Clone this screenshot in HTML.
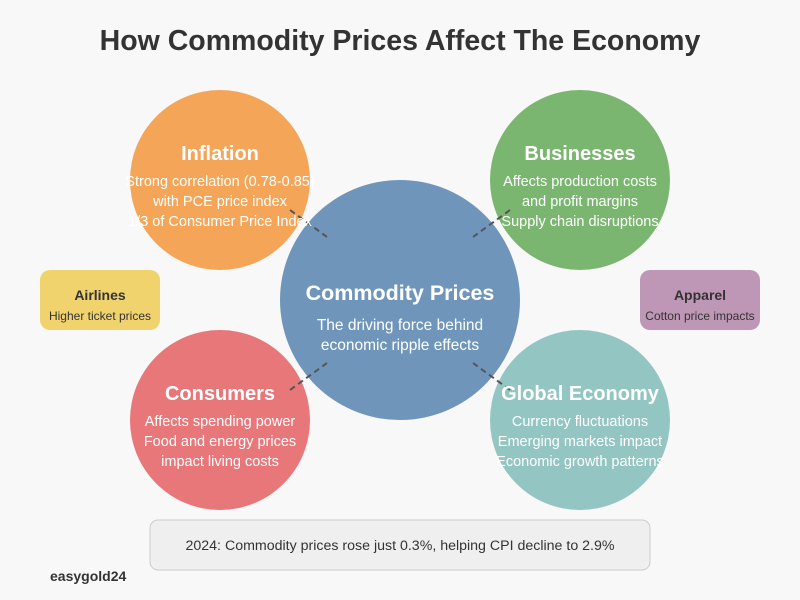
<!DOCTYPE html>
<html><head><style>body{margin:0;background:#f8f8f8}svg{display:block}</style></head><body>
<svg width="800" height="600" viewBox="0 0 800 600" xmlns="http://www.w3.org/2000/svg" font-family="Liberation Sans, sans-serif">
<rect width="800" height="600" fill="#f8f8f8"/>
<text x="400" y="50" text-anchor="middle" font-size="28.5" font-weight="bold" fill="#333">How Commodity Prices Affect The Economy</text>
<circle cx="400" cy="300" r="120" fill="#6f96ba"/>
<circle cx="220" cy="180" r="90" fill="#f4a558"/>
<circle cx="580" cy="180" r="90" fill="#7bb670"/>
<circle cx="220" cy="420" r="90" fill="#e8777a"/>
<circle cx="580" cy="420" r="90" fill="#93c5c2"/>
<g stroke="#555" stroke-width="2" stroke-dasharray="6,4">
<line x1="290" y1="210" x2="327" y2="237"/><line x1="510" y1="210" x2="473" y2="237"/>
<line x1="290" y1="390" x2="327" y2="363"/><line x1="510" y1="390" x2="473" y2="363"/>
</g>
<g fill="#fff" text-anchor="middle">
<text x="400" y="300" font-size="21.5" font-weight="bold">Commodity Prices</text>
<text x="400" y="330" font-size="15.5">The driving force behind</text>
<text x="400" y="350" font-size="15.5">economic ripple effects</text>
<text x="220" y="160" font-size="20" font-weight="bold">Inflation</text>
<text x="220" y="186" font-size="14.5">Strong correlation (0.78-0.85)</text>
<text x="220" y="206" font-size="14.5">with PCE price index</text>
<text x="220" y="226" font-size="14.5">1/3 of Consumer Price Index</text>
<text x="580" y="160" font-size="20" font-weight="bold">Businesses</text>
<text x="580" y="186" font-size="14.5">Affects production costs</text>
<text x="580" y="206" font-size="14.5">and profit margins</text>
<text x="580" y="226" font-size="14.5">Supply chain disruptions</text>
<text x="220" y="400" font-size="20" font-weight="bold">Consumers</text>
<text x="220" y="426" font-size="14.5">Affects spending power</text>
<text x="220" y="446" font-size="14.5">Food and energy prices</text>
<text x="220" y="466" font-size="14.5">impact living costs</text>
<text x="580" y="400" font-size="20" font-weight="bold">Global Economy</text>
<text x="580" y="426" font-size="14.5">Currency fluctuations</text>
<text x="580" y="446" font-size="14.5">Emerging markets impact</text>
<text x="580" y="466" font-size="14.5">Economic growth patterns</text>
</g>
<rect x="40" y="270" width="120" height="60" rx="10" fill="#f1d36d"/>
<text x="100" y="300" text-anchor="middle" font-size="14" font-weight="bold" fill="#333">Airlines</text>
<text x="100" y="320" text-anchor="middle" font-size="12" fill="#333">Higher ticket prices</text>
<rect x="640" y="270" width="120" height="60" rx="10" fill="#bd97b5"/>
<text x="700" y="300" text-anchor="middle" font-size="14" font-weight="bold" fill="#333">Apparel</text>
<text x="700" y="320" text-anchor="middle" font-size="12" fill="#333">Cotton price impacts</text>
<rect x="150" y="520" width="500" height="50" rx="8" fill="#efefef" stroke="#ccc"/>
<text x="400" y="550" text-anchor="middle" font-size="14.2" fill="#333">2024: Commodity prices rose just 0.3%, helping CPI decline to 2.9%</text>
<text x="50" y="581" font-size="14" font-weight="bold" fill="#333">easygold24</text>
</svg>
</body></html>
